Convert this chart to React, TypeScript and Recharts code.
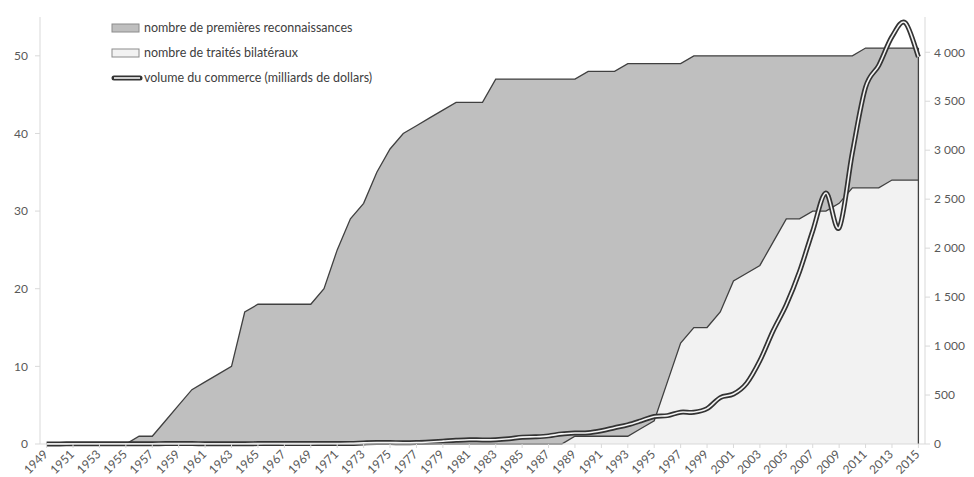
import React from "react";
import {
  ComposedChart,
  Area,
  Line,
  XAxis,
  YAxis,
  ReferenceLine,
} from "recharts";

const years = [
  "1949", "1950", "1951", "1952", "1953", "1954", "1955", "1956", "1957", "1958",
  "1959", "1960", "1961", "1962", "1963", "1964", "1965", "1966", "1967", "1968",
  "1969", "1970", "1971", "1972", "1973", "1974", "1975", "1976", "1977", "1978",
  "1979", "1980", "1981", "1982", "1983", "1984", "1985", "1986", "1987", "1988",
  "1989", "1990", "1991", "1992", "1993", "1994", "1995", "1996", "1997", "1998",
  "1999", "2000", "2001", "2002", "2003", "2004", "2005", "2006", "2007", "2008",
  "2009", "2010", "2011", "2012", "2013", "2014", "2015",
];

// nombre de premières reconnaissances (cumulé)
const recognitions = [
  0, 0, 0, 0, 0, 0, 0, 1, 1, 3,
  5, 7, 8, 9, 10, 17, 18, 18, 18, 18,
  18, 20, 25, 29, 31, 35, 38, 40, 41, 42,
  43, 44, 44, 44, 47, 47, 47, 47, 47, 47,
  47, 48, 48, 48, 49, 49, 49, 49, 49, 50,
  50, 50, 50, 50, 50, 50, 50, 50, 50, 50,
  50, 50, 51, 51, 51, 51, 51,
];

// nombre de traités bilatéraux (cumulé)
const treaties = [
  0, 0, 0, 0, 0, 0, 0, 0, 0, 0,
  0, 0, 0, 0, 0, 0, 0, 0, 0, 0,
  0, 0, 0, 0, 0, 0, 0, 0, 0, 0,
  0, 0, 0, 0, 0, 0, 0, 0, 0, 0,
  1, 1, 1, 1, 1, 2, 3, 8, 13, 15,
  15, 17, 21, 22, 23, 26, 29, 29, 30, 30,
  31, 33, 33, 33, 34, 34, 34,
];

// volume du commerce (milliards de dollars)
const trade = [
  1, 1, 2, 2, 2, 2, 3, 3, 3, 4,
  4, 4, 3, 3, 3, 3, 4, 5, 4, 4,
  4, 5, 5, 6, 11, 15, 15, 13, 15, 21,
  29, 38, 44, 42, 44, 54, 70, 74, 83, 103,
  112, 115, 136, 166, 196, 237, 281, 290, 325, 324,
  361, 474, 510, 621, 851, 1155, 1422, 1760, 2176, 2563,
  2208, 2974, 3642, 3867, 4159, 4302, 3953,
];

const leftTicks = [0, 10, 20, 30, 40, 50];
const rightTicks = [0, 500, 1000, 1500, 2000, 2500, 3000, 3500, 4000];

const legendLabels = [
  "nombre de premières reconnaissances",
  "nombre de traités bilatéraux",
  "volume du commerce (milliards de dollars)",
];

const data = years.map((year, i) => ({
  year,
  recognitions: recognitions[i],
  treaties: treaties[i],
  trade: trade[i],
}));

const FONT = "Lato, 'Open Sans', sans-serif";
const AXIS_COLOR = "#d9d9d9";
const LABEL_COLOR = "#595959";

// Excel-like smoothed line (Catmull-Rom as cubic bezier)
const excelCurve = (context: any) => {
  let pts: number[][] = [];
  return {
    areaStart() {},
    areaEnd() {},
    lineStart() {
      pts = [];
    },
    point(x: number, y: number) {
      pts.push([+x, +y]);
    },
    lineEnd() {
      if (!pts.length) return;
      context.moveTo(pts[0][0], pts[0][1]);
      for (let i = 0; i < pts.length - 1; i++) {
        const p0 = pts[Math.max(i - 1, 0)];
        const p1 = pts[i];
        const p2 = pts[i + 1];
        const p3 = pts[Math.min(i + 2, pts.length - 1)];
        context.bezierCurveTo(
          p1[0] + (p2[0] - p0[0]) / 6,
          p1[1] + (p2[1] - p0[1]) / 6,
          p2[0] - (p3[0] - p1[0]) / 6,
          p2[1] - (p3[1] - p1[1]) / 6,
          p2[0],
          p2[1]
        );
      }
    },
  };
};

const YearTick = ({ x, y, payload }: any) => {
  const ax = x + 2;
  const ay = y + 5;
  return (
    <text
      x={ax}
      y={ay}
      transform={`rotate(-45, ${ax}, ${ay})`}
      textAnchor="end"
      fontSize={12}
      fontFamily={FONT}
      fill={LABEL_COLOR}
    >
      {payload.value}
    </text>
  );
};

const formatThousands = (v: number) =>
  v >= 1000 ? `${Math.floor(v / 1000)}\u202f${String(v % 1000).padStart(3, "0")}` : String(v);

const LegendBox = () => (
  <div
    style={{
      position: "absolute",
      left: 111,
      top: 15,
      fontFamily: FONT,
      fontSize: 12.5,
      color: "#404040",
      lineHeight: "25px",
    }}
  >
    {legendLabels.map((label, i) => (
      <div key={label} style={{ display: "flex", alignItems: "center", height: 25 }}>
        <svg width={32} height={10} style={{ marginRight: 1 }}>
          {i === 0 && <rect x={1} y={1} width={27} height={8} fill="#bfbfbf" stroke="#8c8c8c" />}
          {i === 1 && <rect x={1} y={1} width={27} height={8} fill="#f2f2f2" stroke="#8c8c8c" />}
          {i === 2 && (
            <>
              <line x1={3} y1={5} x2={29} y2={5} stroke="#333" strokeWidth={5} strokeLinecap="round" />
              <line x1={3} y1={5} x2={29} y2={5} stroke="#f5f5f5" strokeWidth={1.6} />
            </>
          )}
        </svg>
        <span>{label}</span>
      </div>
    ))}
  </div>
);

export default function App() {
  const last = years[years.length - 1];
  return (
    <div style={{ position: "absolute", left: 0, top: 0, width: 974, height: 477, background: "#fff" }}>
      <ComposedChart
        width={974}
        height={477}
        data={data}
        margin={{ top: 17, right: 0, bottom: 0, left: 0 }}
      >
        <XAxis
          dataKey="year"
          interval={1}
          height={33}
          padding={{ left: 6.6, right: 6.6 }}
          tick={<YearTick />}
          tickSize={4}
          tickMargin={2}
          axisLine={{ stroke: AXIS_COLOR }}
          tickLine={{ stroke: AXIS_COLOR }}
        />
        <YAxis
          yAxisId="left"
          orientation="left"
          width={40}
          domain={[0, 55]}
          ticks={leftTicks}
          tickSize={5}
          tickMargin={7}
          axisLine={{ stroke: AXIS_COLOR }}
          tickLine={{ stroke: AXIS_COLOR }}
          tick={{ fontSize: 12, fill: LABEL_COLOR, fontFamily: FONT }}
        />
        <YAxis
          yAxisId="right"
          orientation="right"
          width={49}
          domain={[0, 4360]}
          ticks={rightTicks}
          tickFormatter={formatThousands}
          tickSize={5}
          tickMargin={4}
          axisLine={{ stroke: AXIS_COLOR }}
          tickLine={{ stroke: AXIS_COLOR }}
          tick={{ fontSize: 12, fill: LABEL_COLOR, fontFamily: FONT }}
        />
        <Area
          yAxisId="left"
          type="linear"
          dataKey="recognitions"
          fill="#bfbfbf"
          fillOpacity={1}
          stroke="#404040"
          strokeWidth={1.3}
          isAnimationActive={false}
        />
        <Area
          yAxisId="left"
          type="linear"
          dataKey="treaties"
          fill="#f2f2f2"
          fillOpacity={1}
          stroke="#404040"
          strokeWidth={1.3}
          isAnimationActive={false}
        />
        <ReferenceLine
          yAxisId="left"
          segment={[
            { x: last, y: 0 },
            { x: last, y: recognitions[recognitions.length - 1] },
          ]}
          stroke="#404040"
          strokeWidth={1.3}
        />
        <Line
          yAxisId="right"
          type={excelCurve as any}
          dataKey="trade"
          stroke="#333333"
          strokeWidth={5}
          dot={false}
          isAnimationActive={false}
        />
        <Line
          yAxisId="right"
          type={excelCurve as any}
          dataKey="trade"
          stroke="#f5f5f5"
          strokeWidth={1.6}
          dot={false}
          isAnimationActive={false}
        />
      </ComposedChart>
      <LegendBox />
    </div>
  );
}
